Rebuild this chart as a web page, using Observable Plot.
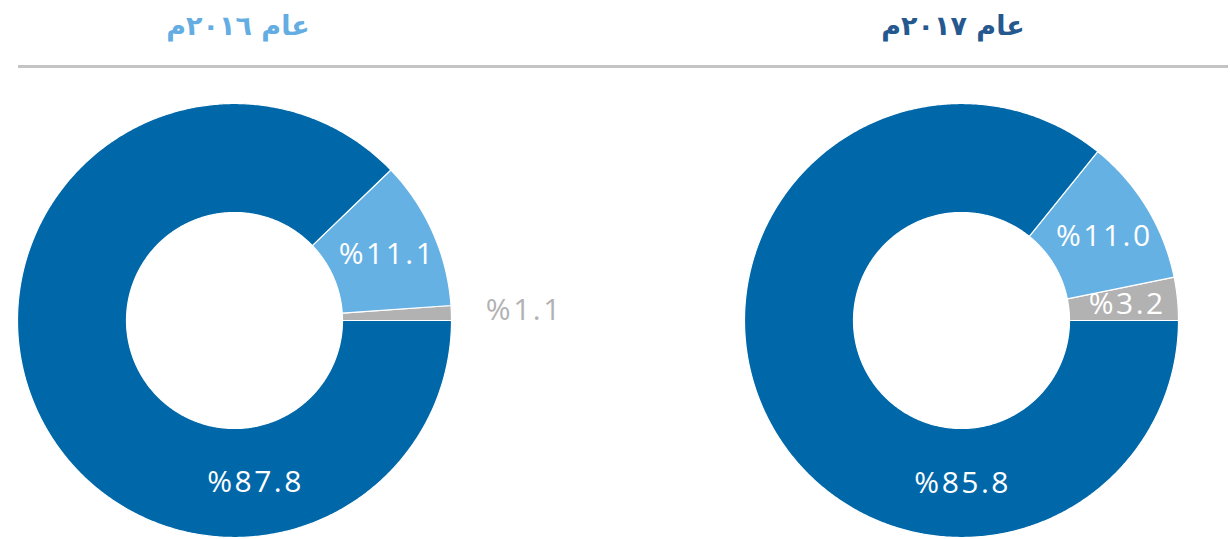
<!DOCTYPE html>
<html>
<head>
<meta charset="utf-8">
<script src="https://cdn.jsdelivr.net/npm/d3@7"></script>
<script src="https://cdn.jsdelivr.net/npm/@observablehq/plot@0.6"></script>
<style>
  html, body { margin: 0; padding: 0; background: #fff; }
  #wrap { width: 1230px; height: 539px; position: relative; overflow: hidden; }
  #header { position: relative; height: 65px; margin-left: 18px; width: 1210px; border-bottom: 3px solid #c4c4c4; }
  .title { position: absolute; top: 10px; font-family: "DejaVu Sans", sans-serif; font-weight: bold; font-size: 27px; direction: rtl; transform: translateX(-50%); white-space: nowrap; }
  #chart text { letter-spacing: 2.5px; }
</style>
</head>
<body>
<div id="wrap">
  <div id="header"></div>
  <div id="chart"></div>
</div>
<script>
// ---- data ----
const years = ["2016", "2017"];
const titles = ["عام ٢٠١٦م", "عام ٢٠١٧م"];
const categories = ["small", "medium", "large"]; // drawn counter-clockwise from 3 o'clock
const values2016 = [1.1, 11.1, 87.8];
const values2017 = [3.2, 11.0, 85.8];
const labels2016 = ["%1.1", "%11.1", "%87.8"];
const labels2017 = ["%3.2", "%11.0", "%85.8"];

// ---- styles / layout ----
const sliceColors = {small: "#b2b2b2", medium: "#65b1e3", large: "#0068a9"};
const titleColors = ["#63ade2", "#25588f"];
const centerX = [234, 961];
const titleX = [238 - 18, 953 - 18];
const centerY = 252;
const rOuter = 217, rInner = 108;
const bigLabelAngle = [276, 269]; // degrees, where label of the largest slice sits
const W = 1230, H = 474;

const header = document.getElementById("header");
titles.forEach((t, i) => {
  const d = document.createElement("div");
  d.className = "title";
  d.textContent = t;
  d.style.left = titleX[i] + "px";
  d.style.color = titleColors[i];
  header.appendChild(d);
});

const series = [values2016, values2017];
const seriesLabels = [labels2016, labels2017];
const polys = [];
const labelRows = [];
const rad = Math.PI / 180;
series.forEach((vals, yi) => {
  const total = d3.sum(vals);
  let start = 0;
  vals.forEach((v, ci) => {
    const a0 = start, a1 = start + v / total * 360;
    start = a1;
    const key = years[yi] + "-" + categories[ci];
    const n = Math.max(2, Math.ceil((a1 - a0) / 0.5));
    const pts = [];
    for (let k = 0; k <= n; k++) {
      const a = (a0 + (a1 - a0) * k / n) * rad;
      pts.push([centerX[yi] + rOuter * Math.cos(a), centerY - rOuter * Math.sin(a)]);
    }
    for (let k = n; k >= 0; k--) {
      const a = (a0 + (a1 - a0) * k / n) * rad;
      pts.push([centerX[yi] + rInner * Math.cos(a), centerY - rInner * Math.sin(a)]);
    }
    pts.push(pts[0]);
    pts.forEach(p => polys.push({key, cat: categories[ci], x: p[0], y: p[1]}));
    // label
    let ang = (a0 + a1) / 2, r = (rOuter + rInner) / 2, col = "white";
    if (v < 2) { r = 286; col = "#b2b2b2"; }
    if (v > 50) ang = bigLabelAngle[yi];
    labelRows.push({
      x: centerX[yi] + r * Math.cos(ang * rad) + 4,
      y: centerY - r * Math.sin(ang * rad),
      text: seriesLabels[yi][ci],
      color: col
    });
  });
});

const chart = Plot.plot({
  width: W,
  height: H,
  margin: 0,
  x: {type: "identity", axis: null},
  y: {type: "identity", axis: null},
  marks: [
    Plot.line(polys, {x: "x", y: "y", z: "key", fill: d => sliceColors[d.cat], stroke: "white", strokeWidth: 1.2}),
    Plot.text(labelRows, {x: "x", y: "y", text: "text", fill: "color", fontSize: 30,
      fontFamily: "'Open Sans', 'Noto Sans', sans-serif"})
  ]
});
chart.style.display = "block";
document.getElementById("chart").appendChild(chart);
</script>
</body>
</html>
